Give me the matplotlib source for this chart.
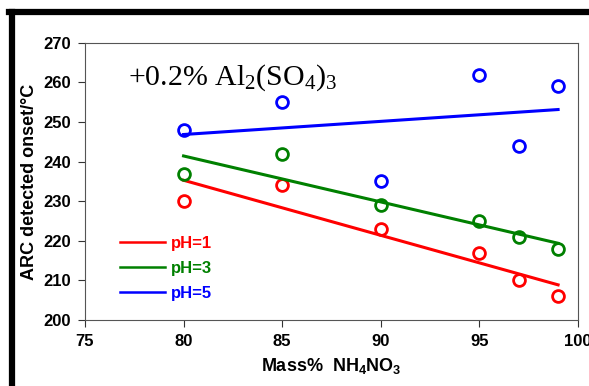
import numpy as np
import matplotlib.pyplot as plt
from matplotlib.lines import Line2D

mass = [80, 85, 90, 95, 97, 99]
ph1 = [230, 234, 223, 217, 210, 206]
ph3 = [237, 242, 229, 225, 221, 218]
ph5 = [248, 255, 235, 262, 244, 259]
labels = ['pH=1', 'pH=3', 'pH=5']
colors = ['red', 'green', 'blue']

plt.rcParams['font.family'] = ['Liberation Sans', 'DejaVu Sans']

fig = plt.figure(figsize=(5.89, 3.86), dpi=100)
ax = fig.add_axes([0.1443, 0.171, 0.8367, 0.718])

for ys, lab, col in zip([ph1, ph3, ph5], labels, colors):
    ax.plot(mass, ys, 'o', mfc='none', mec=col, ms=8.5, mew=2.0)
    # linear trend line over the data range
    k, b = np.polyfit(mass, ys, 1)
    xs = np.array([mass[0], mass[-1]])
    ax.plot(xs, k * xs + b, color=col, lw=2.2, label=lab)

ax.set_xlim(75, 100)
ax.set_ylim(200, 270)
ax.set_xticks(range(75, 101, 5))
ax.set_yticks(range(200, 271, 10))
ax.tick_params(labelsize=12, width=0.8, length=5, color='#333333', pad=5)
for t in ax.get_xticklabels() + ax.get_yticklabels():
    t.set_fontweight('bold')
for s in ax.spines.values():
    s.set_color('#555555')
    s.set_linewidth(0.8)

ax.set_xlabel(r'Mass%  NH$\mathregular{_4}$NO$\mathregular{_3}$', fontsize=13, fontweight='bold', labelpad=5)
ax.set_ylabel('ARC detected onset/\u00b0C', fontsize=13, fontweight='bold', labelpad=4)

ax.text(0.087, 0.875, r'+0.2% Al$\mathregular{_2}$(SO$\mathregular{_4}$)$\mathregular{_3}$',
        transform=ax.transAxes, fontsize=21.5, family='Liberation Serif', va='center')

leg = ax.legend(loc='lower left', bbox_to_anchor=(0.04, 0.015), frameon=False,
                labelcolor='linecolor', handlelength=2.7, handletextpad=0.4,
                labelspacing=0.6, prop={'weight': 'bold', 'size': 12})
for h in leg.get_lines():
    h.set_linewidth(1.8)

# thick black frame from the page
fig.add_artist(Line2D([0.016, 1.0], [0.969, 0.969], color='black', lw=4.5, transform=fig.transFigure))
fig.add_artist(Line2D([0.0204, 0.0204], [0.0, 0.969], color='black', lw=4.5, transform=fig.transFigure))

plt.savefig('out.png', dpi=100)
